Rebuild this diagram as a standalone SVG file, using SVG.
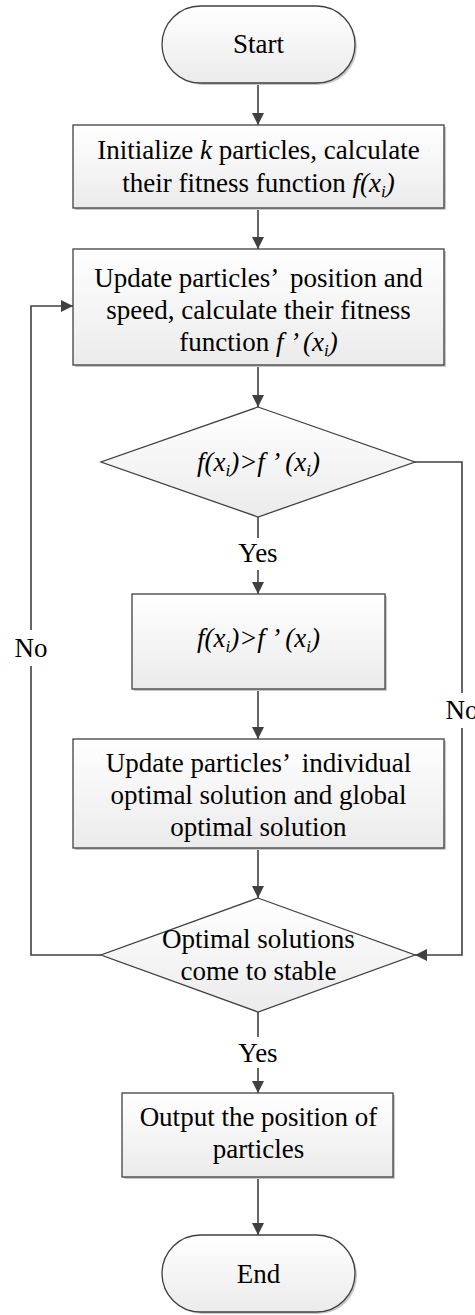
<svg xmlns="http://www.w3.org/2000/svg" width="475" height="1315" viewBox="0 0 475 1315">
<defs>
<linearGradient id="g" x1="0" y1="0" x2="0" y2="1">
<stop offset="0" stop-color="#ffffff"/>
<stop offset="1" stop-color="#ebebeb"/>
</linearGradient>
<marker id="ah" viewBox="0 0 12 12" refX="12" refY="6" markerWidth="12" markerHeight="12" markerUnits="userSpaceOnUse" orient="auto">
<path d="M0,0 L12,6 L0,12 z" fill="#404040"/>
</marker>
<style>
.s{fill:url(#g);stroke:#404040;stroke-width:1.3}
.sh{fill:#c8c8c8;stroke:none}
.t{font-family:"Liberation Serif","Times New Roman",serif;font-size:27px;fill:#000;text-anchor:middle}
.c{fill:none;stroke:#404040;stroke-width:1.6}
.i{font-style:italic}
.sub{font-size:17px}
</style>
</defs>
<rect width="475" height="1315" fill="#fff"/>
<g id="connectors">
<path class="c" d="M258,83 V125" marker-end="url(#ah)"/>
<path class="c" d="M258,208 V249" marker-end="url(#ah)"/>
<path class="c" d="M258,365 V407" marker-end="url(#ah)"/>
<path class="c" d="M258,517 V538"/>
<path class="c" d="M258,570 V594" marker-end="url(#ah)"/>
<path class="c" d="M258,689 V739" marker-end="url(#ah)"/>
<path class="c" d="M258,848 V898" marker-end="url(#ah)"/>
<path class="c" d="M258,1012 V1037"/>
<path class="c" d="M258,1068 V1093" marker-end="url(#ah)"/>
<path class="c" d="M258,1177 V1235" marker-end="url(#ah)"/>
<path class="c" d="M415,462 H462 V693"/>
<path class="c" d="M462,728 V955 H415" marker-end="url(#ah)"/>
<path class="c" d="M101,955 H31 V666"/>
<path class="c" d="M31,630 V306 H73" marker-end="url(#ah)"/>
<text class="t" x="258" y="562">Yes</text>
<text class="t" x="258" y="1062">Yes</text>
<text class="t" x="31" y="657">No</text>
<text class="t" x="462" y="719">No</text>
</g>
<g id="start">
<rect class="sh" x="164" y="8" width="193" height="77" rx="38.5"/>
<rect class="s" x="162" y="6" width="193" height="77" rx="38.5"/>
<text class="t" x="258.5" y="53">Start</text>
</g>
<g id="init">
<rect class="sh" x="75" y="127" width="371" height="83"/>
<rect class="s" x="73" y="125" width="371" height="83"/>
<text class="t" x="258.5" y="159">Initialize <tspan class="i">k</tspan> particles, calculate</text>
<text class="t" x="258.5" y="192">their fitness function <tspan class="i">f(x<tspan class="sub" dy="5">i</tspan><tspan dy="-5">)</tspan></tspan></text>
</g>
<g id="update">
<rect class="sh" x="75" y="251" width="371" height="116"/>
<rect class="s" x="73" y="249" width="371" height="116"/>
<text class="t" x="258.5" y="287">Update particles’ <tspan dx="6">position and</tspan></text>
<text class="t" x="258.5" y="319">speed, calculate their fitness</text>
<text class="t" x="258.5" y="351">function <tspan class="i">f<tspan dx="4">’</tspan><tspan dx="4">(x</tspan><tspan class="sub" dy="5">i</tspan><tspan dy="-5">)</tspan></tspan></text>
</g>
<g id="decision1">
<polygon class="s" points="258,407 415,462 258,517 101,462"/>
<text class="t" x="258.5" y="471"><tspan class="i">f(x<tspan class="sub" dy="5">i</tspan><tspan dy="-5">)&gt;f</tspan><tspan dx="4">’</tspan><tspan dx="5">(x</tspan><tspan class="sub" dy="5">i</tspan><tspan dy="-5">)</tspan></tspan></text>
</g>
<g id="compare">
<rect class="sh" x="134" y="596" width="253" height="95"/>
<rect class="s" x="132" y="594" width="253" height="95"/>
<text class="t" x="258.5" y="647"><tspan class="i">f(x<tspan class="sub" dy="5">i</tspan><tspan dy="-5">)&gt;f</tspan><tspan dx="4">’</tspan><tspan dx="5">(x</tspan><tspan class="sub" dy="5">i</tspan><tspan dy="-5">)</tspan></tspan></text>
</g>
<g id="updateopt">
<rect class="sh" x="75" y="741" width="371" height="109"/>
<rect class="s" x="73" y="739" width="371" height="109"/>
<text class="t" x="258.5" y="772">Update particles’ <tspan dx="6">individual</tspan></text>
<text class="t" x="258.5" y="804">optimal solution and global</text>
<text class="t" x="258.5" y="836">optimal solution</text>
</g>
<g id="decision2">
<polygon class="s" points="258,898 415,955 258,1012 101,955"/>
<text class="t" x="258.5" y="948">Optimal solutions</text>
<text class="t" x="258.5" y="980">come to stable</text>
</g>
<g id="output">
<rect class="sh" x="124" y="1095" width="271" height="84"/>
<rect class="s" x="122" y="1093" width="271" height="84"/>
<text class="t" x="258.5" y="1126">Output the position of</text>
<text class="t" x="258.5" y="1158">particles</text>
</g>
<g id="end">
<rect class="sh" x="164" y="1237" width="193" height="77" rx="38.5"/>
<rect class="s" x="162" y="1235" width="193" height="77" rx="38.5"/>
<text class="t" x="258.5" y="1283">End</text>
</g>
</svg>
